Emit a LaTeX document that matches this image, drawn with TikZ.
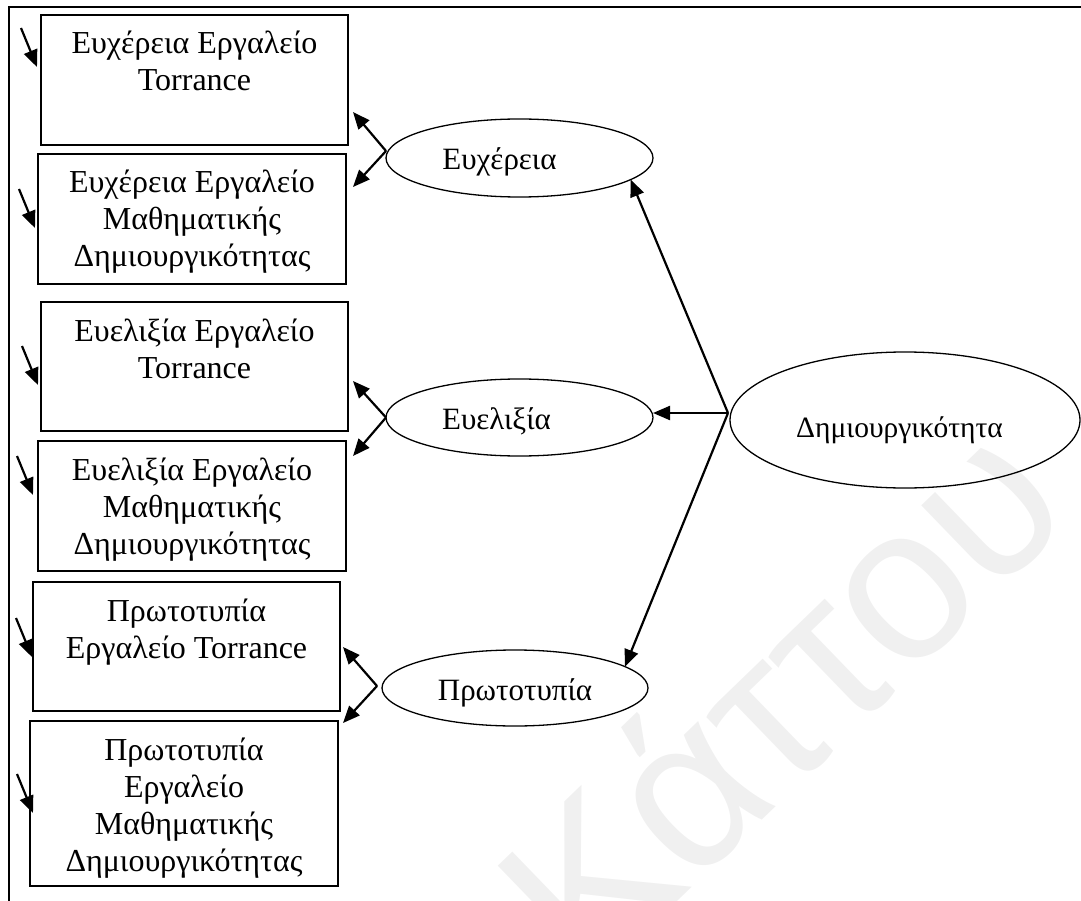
\documentclass[tikz,border=0pt]{standalone}
\usepackage{fontspec}
\setmainfont{Liberation Serif}
\newfontfamily\markfont{Liberation Sans}
\usetikzlibrary{shapes.geometric,arrows.meta,calc}

% top-aligned, centred lines inside a box of fixed size
\newcommand{\boxlines}[3]{\parbox[t][#2][t]{#1}{\centering\rule{0pt}{39pt}#3}}

\begin{document}
\begin{tikzpicture}[x=1pt,y=-1pt,
  every node/.style={inner sep=0pt, outer sep=0pt},
  measure/.style={draw, line width=1.8pt, anchor=north west,
    font=\fontsize{32}{37}\selectfont},
  factor/.style={draw, ellipse, line width=1.3pt,
    font=\fontsize{31}{37}\selectfont, text height=31pt, text depth=7pt},
  arr/.style={line width=2.2pt, -{Triangle[length=17pt,width=14pt]}},
  ]
\useasboundingbox (0,0) rectangle (1081,901);
\clip (0,0) rectangle (1081,901);

% background mark
\node[rotate=44, text=black!6, font=\markfont\fontsize{218}{218}\selectfont]
  (mark) at (777,693) {Κάττου};

% frame
\draw[line width=1.5pt] (1081,7) -- (9,7) -- (9,901);

% observed measures
\node[measure] (b1) at (41,15)  {\boxlines{307pt}{130pt}{Ευχέρεια Εργαλείο\\Torrance}};
\node[measure] (b2) at (38,154) {\boxlines{308pt}{130pt}{Ευχέρεια Εργαλείο\\Μαθηματικής\\Δημιουργικότητας}};
\node[measure] (b3) at (41,302) {\boxlines{307pt}{129pt}{Ευελιξία Εργαλείο\\Torrance}};
\node[measure] (b4) at (38,441) {\boxlines{308pt}{130pt}{Ευελιξία Εργαλείο\\Μαθηματικής\\Δημιουργικότητας}};
\node[measure] (b5) at (33,582) {\boxlines{307pt}{129pt}{Πρωτοτυπία\\Εργαλείο Torrance}};
\node[measure] (b6) at (30,721) {\boxlines{308pt}{165pt}{Πρωτοτυπία\\Εργαλείο\\Μαθηματικής\\Δημιουργικότητας}};

% latent factors
\node[factor, minimum width=267pt, minimum height=78pt] (f1) at (519.5,158) {Ευχέρεια\hspace*{40pt}};
\node[factor, minimum width=267pt, minimum height=77pt] (f2) at (519.5,417.5) {Ευελιξία\hspace*{46pt}};
\node[factor, minimum width=266pt, minimum height=76pt] (f3) at (515,688) {Πρωτοτυπία};
\node[factor, minimum width=350pt, minimum height=136pt,
  font=\fontsize{29.5}{34}\selectfont, text height=41pt] (cr) at (905,420) {Δημιουργικότητα\hspace*{11pt}};

% second-order paths
\coordinate (j0) at ([shift={(-2,-7)}]cr.west);
\draw[arr] (j0) -- (f1.-11);
\draw[arr] (j0) -- (j0 -| f2.east);
\draw[arr] (j0) -- (f3.11);

% first-order loadings
\coordinate (j1) at ([shift={(0,-7)}]f1.west);
\draw[arr] (j1) -- ([shift={(5,-33)}]b1.south east);
\draw[arr] (j1) -- ([shift={(7,33)}]b2.north east);
\coordinate (j2) at (f2.west);
\draw[arr] (j2) -- ([shift={(5,-50)}]b3.south east);
\draw[arr] (j2) -- ([shift={(7,15)}]b4.north east);
\coordinate (j3) at ([shift={(-5,-2)}]f3.west);
\draw[arr] (j3) -- ([shift={(3,-64)}]b5.south east);
\draw[arr] (j3) -- ([shift={(5,2)}]b6.north east);

% error terms
\foreach \b/\dx/\dy in {b1/-4/52, b2/-3/74, b3/-3/83, b4/-5/54, b5/-1/75, b6/3/92} {
  \coordinate (\b-tip) at ([shift={(\dx,\dy)}]\b.north west);
  \coordinate (\b-src) at ([shift={(-16,-39)}]\b-tip);
  \draw[arr] (\b-src) -- (\b-tip);
}
\end{tikzpicture}
\end{document}
